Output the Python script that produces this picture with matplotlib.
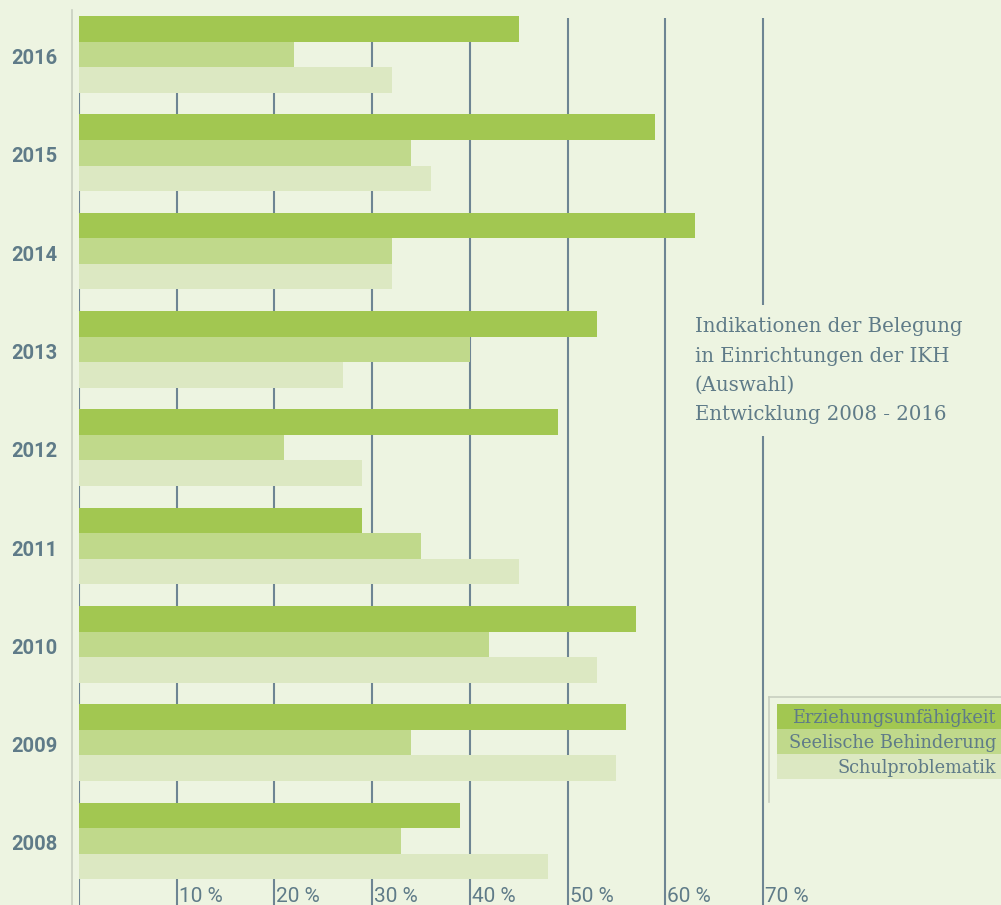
import matplotlib
matplotlib.use("Agg")
import matplotlib.pyplot as plt
from matplotlib.patches import Rectangle
import numpy as np

years = ["2016", "2015", "2014", "2013", "2012", "2011", "2010", "2009", "2008"]
erziehung = [45, 59, 63, 53, 49, 29, 57, 56, 39]
seelisch = [22, 34, 32, 40, 21, 35, 42, 34, 33]
schul = [32, 36, 32, 27, 29, 45, 53, 55, 48]
series_names = ["Erziehungsunfähigkeit", "Seelische Behinderung", "Schulproblematik"]
ticks = [0, 10, 20, 30, 40, 50, 60, 70]
tick_labels = ["", "10 %", "20 %", "30 %", "40 %", "50 %", "60 %", "70 %"]
title_lines = ["Indikationen der Belegung", "in Einrichtungen der IKH", "(Auswahl)",
               "Entwicklung 2008 - 2016"]

BG = "#EDF4E1"
C_E = "#A2C751"
C_S = "#C0D98B"
C_SCH = "#DCE8C2"
GRID = "#6E8593"
TXT = "#5F7B88"

W, H = 1001, 905
fig = plt.figure(figsize=(W / 100, H / 100), dpi=100)
fig.patch.set_facecolor(BG)

px_per_unit = 9.771
x0px = 79
xmax = (W - x0px) / px_per_unit
ax = fig.add_axes([x0px / W, 0, 1 - x0px / W, 1])
ax.set_facecolor(BG)
ax.set_xlim(0, xmax)
pitch = 98.3
top_center = 54.5
ymax = 8 + top_center / pitch
ymin = -(H - (top_center + 8 * pitch)) / pitch
ax.set_ylim(ymin, ymax)
for s in ax.spines.values():
    s.set_visible(False)
ax.set_xticks([])
ax.set_yticks([])

ypos = np.arange(len(years))[::-1]  # 2016 -> 8, 2008 -> 0
bh = 0.26
ax.barh(ypos + bh, erziehung, height=bh, color=C_E, zorder=3, linewidth=0)
ax.barh(ypos, seelisch, height=bh, color=C_S, zorder=3, linewidth=0)
ax.barh(ypos - bh, schul, height=bh, color=C_SCH, zorder=3, linewidth=0)

grid_top = ymax - 18 / pitch
for t in ticks:
    ax.vlines(t, ymin, grid_top, color=GRID, lw=1.5, zorder=1)

# faint left line
fig.add_artist(plt.Line2D([72 / W, 72 / W], [0, 1 - 10 / H], color="#C8CFC0", lw=1.2))

for t, lab in zip(ticks, tick_labels):
    if lab:
        ax.text(t + 0.2, ymin + 3 / pitch, lab, ha="left", va="baseline",
                fontsize=15, color=TXT, family="Roboto", fontstretch="condensed",
                zorder=5)

for y, lab in zip(ypos, years):
    fig.text(57 / W, 1 - (top_center + (8 - y) * pitch + 4) / H, lab, ha="right",
             va="center", fontsize=14.5, fontweight="bold", color=TXT, family="Roboto")

# title block
fig.text(695 / W, 1 - 317 / H, "\n".join(title_lines), ha="left", va="top",
         fontsize=14.2, color=TXT, family="DejaVu Serif", linespacing=1.7,
         bbox=dict(boxstyle="square,pad=0.6", facecolor=BG, edgecolor="none"), zorder=10)

# legend
fig.add_artist(plt.Line2D([769 / W, 769 / W], [1 - 697 / H, 1 - 802 / H], color="#C8CFC0", lw=1.2))
fig.add_artist(plt.Line2D([769 / W, 1], [1 - 697 / H, 1 - 697 / H], color="#C8CFC0", lw=1.2))
for i, (name, col) in enumerate(zip(series_names, [C_E, C_S, C_SCH])):
    ytop = 704 + i * 25
    fig.add_artist(Rectangle((777 / W, 1 - (ytop + 25) / H), (W - 777) / W, 25 / H,
                             facecolor=col, edgecolor="none", transform=fig.transFigure))
    fig.text(996 / W, 1 - (ytop + 14) / H, name, ha="right", va="center",
             fontsize=12.8, color=TXT, family="DejaVu Serif")

fig.savefig("out.png", dpi=100, facecolor=BG)
